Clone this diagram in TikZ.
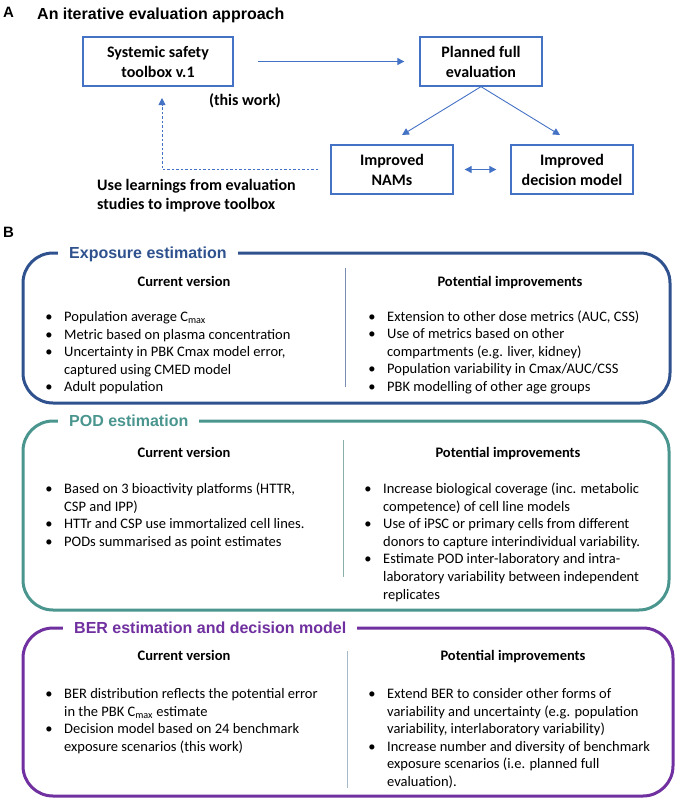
\documentclass[tikz,border=0pt]{standalone}
\usepackage{fontspec}
\setmainfont{Carlito}
\newfontfamily\arialf{Liberation Sans}
\usetikzlibrary{arrows.meta}
\definecolor{boxblue}{RGB}{68,114,196}
\definecolor{expc}{RGB}{47,82,143}
\definecolor{podc}{RGB}{74,150,143}
\definecolor{berc}{RGB}{112,48,160}
\definecolor{expdiv}{RGB}{120,140,175}
\definecolor{poddiv}{RGB}{140,175,172}
\definecolor{berdiv}{RGB}{165,185,200}
\newcommand{\bodyf}{\fontsize{14.5}{17.6}\selectfont}
\newcommand{\boxf}{\fontsize{16}{20}\selectfont\bfseries}
\newcommand{\titf}{\arialf\bfseries\fontsize{16}{19}\selectfont}
\begin{document}
\begin{tikzpicture}[x=1pt,y=-1pt,
  abox/.style={draw=boxblue, line width=1.3pt, minimum width=#1, minimum height=49pt, inner sep=0pt, align=center, font=\boxf},
  arr/.style={draw=boxblue, line width=0.9pt, -{Triangle[length=7pt,width=7pt]}},
  darr/.style={draw=boxblue, line width=0.9pt, dash pattern=on 2.5pt off 2pt, -{Triangle[length=7pt,width=7pt]}},
  frame/.style={line width=3pt, rounded corners=30pt},
  sectitle/.style={anchor=base west, fill=white, inner xsep=11pt, inner ysep=3pt, font=\titf},
  panel/.style={anchor=base west, inner sep=0pt, font=\arialf\bfseries\fontsize{15}{18}\selectfont},
  head/.style={anchor=base, inner sep=0pt, font=\bodyf\bfseries},
  tx/.style={anchor=base west, inner sep=0pt, font=\bodyf},
  bu/.style={anchor=base, inner sep=0pt, font=\bodyf},
  divl/.style={line width=0.9pt}
]
\useasboundingbox (0,0) rectangle (680,801);

% ---------- Panel A ----------
\node[panel] (pA) at (3,17.5) {A};
\node[anchor=base west, inner sep=0pt, font=\titf] (tA) at (37,19.8) {An iterative evaluation approach};

\node[abox=150pt] (b1) at (158,61.5) {Systemic safety\\toolbox v.1};
\node[abox=122pt] (b2) at (481,61.5) {Planned full\\evaluation};
\node[abox=122pt] (b3) at (392,169.5) {Improved\\NAMs};
\node[abox=122pt] (b4) at (572,169.5) {Improved\\decision model};
\node[font=\boxf, inner sep=0pt] (tw) at (245,101) {(this work)};

\draw[arr, shorten <=24pt, shorten >=15pt] (b1.east) -- (b2.west);
\coordinate (t3) at (402,135);
\coordinate (t4) at (560,135);
\draw[arr] (b2.south) -- (t3);
\draw[arr] (b2.south) -- (t4);
\draw[draw=boxblue, line width=0.9pt, {Triangle[length=7pt,width=7pt]}-{Triangle[length=7pt,width=7pt]}, shorten <=11pt, shorten >=14pt] (b3.east) -- (b4.west);
\coordinate (dc) at (162,169.5);
\coordinate (dt) at (162,98);
\draw[darr, shorten <=12pt] (b3.west) -- (dc) -- (dt);
\node[anchor=base west, inner sep=0pt, font=\boxf] (u1) at (97,190) {Use learnings from evaluation};
\node[anchor=base west, inner sep=0pt, font=\boxf] (u2) at (97,209) {studies to improve toolbox};

% ---------- Panel B ----------
\node[panel] (pB) at (3,237.5) {B};

% Exposure
\draw[frame, draw=expc] (23,253) rectangle (670,403);
\node[sectitle, text=expc] (tE) at (58,258.8) {Exposure estimation};
\draw[divl, draw=expdiv] (345,268) -- (345,387);
\node[head] (eh1) at (184,286.5) {Current version};
\node[head] (eh2) at (510,286.5) {Potential improvements};
\node[bu] (eb1) at (49,321.5) {\textbullet};
\node[tx] (el1) at (64,321.5) {Population average C\textsubscript{max}};
\node[bu] (eb2) at (49,339.1) {\textbullet};
\node[tx] (el2) at (64,339.1) {Metric based on plasma concentration};
\node[bu] (eb3) at (49,356.7) {\textbullet};
\node[tx] (el3) at (64,356.7) {Uncertainty in PBK Cmax model error,};
\node[tx] (el4) at (64,374.3) {captured using CMED model};
\node[bu] (eb5) at (49,391.9) {\textbullet};
\node[tx] (el5) at (64,391.9) {Adult population};
\node[bu] (er1b) at (372,321) {\textbullet};
\node[tx] (er1) at (387,321) {Extension to other dose metrics (AUC, CSS)};
\node[bu] (er2b) at (372,338.6) {\textbullet};
\node[tx] (er2) at (387,338.6) {Use of metrics based on other};
\node[tx] (er3) at (387,356.2) {compartments (e.g. liver, kidney)};
\node[bu] (er4b) at (372,373.8) {\textbullet};
\node[tx] (er4) at (387,373.8) {Population variability in Cmax/AUC/CSS};
\node[bu] (er5b) at (372,391.4) {\textbullet};
\node[tx] (er5) at (387,391.4) {PBK modelling of other age groups};

% POD
\draw[frame, draw=podc] (23,421) rectangle (669,610);
\node[sectitle, text=podc] (tP) at (58,426.8) {POD estimation};
\draw[divl, draw=poddiv] (343,440) -- (343,577);
\node[head] (ph1) at (184,457.5) {Current version};
\node[head] (ph2) at (508,457.5) {Potential improvements};
\node[bu] (pb1) at (49,493.5) {\textbullet};
\node[tx] (pl1) at (64,493.5) {Based on 3 bioactivity platforms (HTTR,};
\node[tx] (pl2) at (64,511.1) {CSP and IPP)};
\node[bu] (pb3) at (49,528.7) {\textbullet};
\node[tx] (pl3) at (64,528.7) {HTTr and CSP use immortalized cell lines.};
\node[bu] (pb4) at (49,546.3) {\textbullet};
\node[tx] (pl4) at (64,546.3) {PODs summarised as point estimates};
\node[bu] (pr1b) at (368,493.5) {\textbullet};
\node[tx] (pr1) at (383,493.5) {Increase biological coverage (inc. metabolic};
\node[tx] (pr2) at (383,511.1) {competence) of cell line models};
\node[bu] (pr3b) at (368,528.7) {\textbullet};
\node[tx] (pr3) at (383,528.7) {Use of iPSC or primary cells from different};
\node[tx] (pr4) at (383,546.3) {donors to capture interindividual variability.};
\node[bu] (pr5b) at (368,563.9) {\textbullet};
\node[tx] (pr5) at (383,563.9) {Estimate POD inter-laboratory and intra-};
\node[tx] (pr6) at (383,581.5) {laboratory variability between independent};
\node[tx] (pr7) at (383,599.1) {replicates};

% BER
\draw[frame, draw=berc] (23,628) rectangle (673,796);
\node[sectitle, text=berc] (tB) at (63,633.8) {BER estimation and decision model};
\draw[divl, draw=berdiv] (347,651) -- (347,788);
\node[head] (bh1) at (184,660.5) {Current version};
\node[head] (bh2) at (513,660.5) {Potential improvements};
\node[bu] (bb1) at (49,698.5) {\textbullet};
\node[tx] (bl1) at (64,698.5) {BER distribution reflects the potential error};
\node[tx] (bl2) at (64,716.1) {in the PBK C\textsubscript{max} estimate};
\node[bu] (bb3) at (49,733.7) {\textbullet};
\node[tx] (bl3) at (64,733.7) {Decision model based on 24 benchmark};
\node[tx] (bl4) at (64,751.3) {exposure scenarios (this work)};
\node[bu] (br1b) at (372,698.5) {\textbullet};
\node[tx] (br1) at (387,698.5) {Extend BER to consider other forms of};
\node[tx] (br2) at (387,716.1) {variability and uncertainty (e.g. population};
\node[tx] (br3) at (387,733.7) {variability, interlaboratory variability)};
\node[bu] (br4b) at (372,751.3) {\textbullet};
\node[tx] (br4) at (387,751.3) {Increase number and diversity of benchmark};
\node[tx] (br5) at (387,768.9) {exposure scenarios (i.e. planned full};
\node[tx] (br6) at (387,786.5) {evaluation).};
\end{tikzpicture}
\end{document}
